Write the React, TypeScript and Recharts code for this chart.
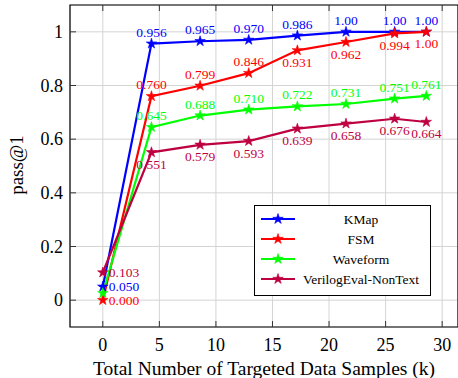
import { LineChart, Line, XAxis, YAxis, CartesianGrid, ReferenceArea, LabelList, Symbols } from 'recharts';

const samples = [0, 4.3, 8.6, 12.9, 17.2, 21.5, 25.8, 28.6];
const kmap = [0.05, 0.956, 0.965, 0.97, 0.986, 1.0, 1.0, 1.0];
const fsm = [0.0, 0.76, 0.799, 0.846, 0.931, 0.962, 0.994, 1.0];
const waveform = [0.026, 0.645, 0.688, 0.71, 0.722, 0.731, 0.751, 0.761];
const nonText = [0.103, 0.551, 0.579, 0.593, 0.639, 0.658, 0.676, 0.664];

const xTicks = [0, 5, 10, 15, 20, 25, 30];
const yTicks = [0, 0.2, 0.4, 0.6, 0.8, 1];

const series = [
  { key: 'kmap', name: 'KMap', color: '#0000ff', values: kmap },
  { key: 'fsm', name: 'FSM', color: '#ff0000', values: fsm },
  { key: 'waveform', name: 'Waveform', color: '#00ff00', values: waveform },
  { key: 'nonText', name: 'VerilogEval-NonText', color: '#bf0040', values: nonText },
];

const rows = samples.map((x, i) => {
  const row: Record<string, number> = { x };
  series.forEach((s) => (row[s.key] = s.values[i]));
  return row;
});

const FONT = '"Liberation Serif", "Times New Roman", serif';
const PLOT = { left: 70, right: 458, top: 5, bottom: 327 };
const X_DOMAIN: [number, number] = [-2.9, 31.4];
const Y_DOMAIN: [number, number] = [-0.1, 1.1];

function placement(key: string, index: number) {
  if (index === 0) return key === 'waveform' ? 'none' : 'right';
  if (key === 'nonText') return 'below';
  if (key === 'fsm' && index >= 4) return 'below';
  return 'above';
}

const fmt = (v: number) => (v === 1 ? '1.00' : v.toFixed(3));

function makeLabel(key: string, color: string) {
  return (props: any) => {
    const { x, y, value, index } = props;
    const where = placement(key, index);
    if (where === 'none') return null;
    let tx = x;
    let ty = y;
    let anchor: 'start' | 'middle' = 'middle';
    if (where === 'right') {
      tx = x + 6;
      anchor = 'start';
    } else if (where === 'above') {
      ty = y - 11.5;
    } else {
      ty = y + 12;
    }
    return (
      <text x={tx} y={ty} textAnchor={anchor} dominantBaseline="central" fill={color} fontSize={13.5} fontFamily={FONT}>
        {fmt(value)}
      </text>
    );
  };
}

function makeDot(color: string) {
  return (props: any) => (
    <Symbols key={props.index} cx={props.cx} cy={props.cy} type="star" size={34} fill={color} stroke={color} strokeWidth={0.6} />
  );
}

const XTick = (props: any) => {
  const { x, payload } = props;
  return (
    <g>
      <line x1={x} x2={x} y1={PLOT.bottom} y2={PLOT.bottom - 6} stroke="#333" />
      <line x1={x} x2={x} y1={PLOT.top} y2={PLOT.top + 6} stroke="#333" />
      <text x={x} y={345} textAnchor="middle" dominantBaseline="central" fontSize={18} fontFamily={FONT} fill="#000">
        {payload.value}
      </text>
    </g>
  );
};

const YTick = (props: any) => {
  const { y, payload } = props;
  return (
    <g>
      <line x1={PLOT.left} x2={PLOT.left + 6} y1={y} y2={y} stroke="#333" />
      <text x={63} y={y} textAnchor="end" dominantBaseline="central" fontSize={18} fontFamily={FONT} fill="#000">
        {payload.value}
      </text>
    </g>
  );
};

function LegendBox() {
  return (
    <svg width={177} height={91} style={{ position: 'absolute', left: 254, top: 205 }}>
      <rect x={0.5} y={0.5} width={176} height={90} fill="#fff" stroke="#000" />
      {series.map((s, i) => {
        const cy = 14 + i * 20;
        return (
          <g key={s.key}>
            <line x1={7} x2={41} y1={cy} y2={cy} stroke={s.color} strokeWidth={2.2} />
            <Symbols cx={24} cy={cy} type="star" size={34} fill={s.color} stroke={s.color} strokeWidth={0.6} />
            <text x={107} y={cy} textAnchor="middle" dominantBaseline="central" fontSize={13.5} fontFamily={FONT} fill="#000">
              {s.name}
            </text>
          </g>
        );
      })}
    </svg>
  );
}

export default function App() {
  return (
    <div style={{ position: 'absolute', left: 0, top: 0, width: 458, height: 378, background: '#fff', overflow: 'hidden' }}>
      <LineChart width={458} height={378} data={rows} margin={{ top: PLOT.top, right: 0, bottom: 0, left: 0 }}>
        <CartesianGrid stroke="#d4d4d4" strokeWidth={1} />
        <XAxis
          type="number"
          dataKey="x"
          domain={X_DOMAIN}
          ticks={xTicks}
          tick={<XTick />}
          tickLine={false}
          axisLine={false}
          height={51}
          allowDataOverflow
        />
        <YAxis
          type="number"
          domain={Y_DOMAIN}
          ticks={yTicks}
          tick={<YTick />}
          tickLine={false}
          axisLine={false}
          width={70}
          allowDataOverflow
        />
        <ReferenceArea x1={X_DOMAIN[0]} x2={X_DOMAIN[1]} y1={Y_DOMAIN[0]} y2={Y_DOMAIN[1]} fill="none" stroke="#000" strokeWidth={1.2} fillOpacity={0} />
        {series.map((s) => (
          <Line
            key={s.key}
            dataKey={s.key}
            stroke={s.color}
            strokeWidth={2.2}
            dot={makeDot(s.color)}
            activeDot={false}
            isAnimationActive={false}
          >
            <LabelList dataKey={s.key} content={makeLabel(s.key, s.color)} />
          </Line>
        ))}
      </LineChart>
      <LegendBox />
      <svg width={458} height={378} style={{ position: 'absolute', left: 0, top: 0, pointerEvents: 'none' }}>
        <text x={16} y={165} transform="rotate(-90 16 165)" textAnchor="middle" dominantBaseline="central" fontSize={19} fontFamily={FONT}>
          pass@1
        </text>
        <text x={264} y={368} textAnchor="middle" dominantBaseline="central" fontSize={19.5} fontFamily={FONT}>
          Total Number of Targeted Data Samples (k)
        </text>
      </svg>
    </div>
  );
}
